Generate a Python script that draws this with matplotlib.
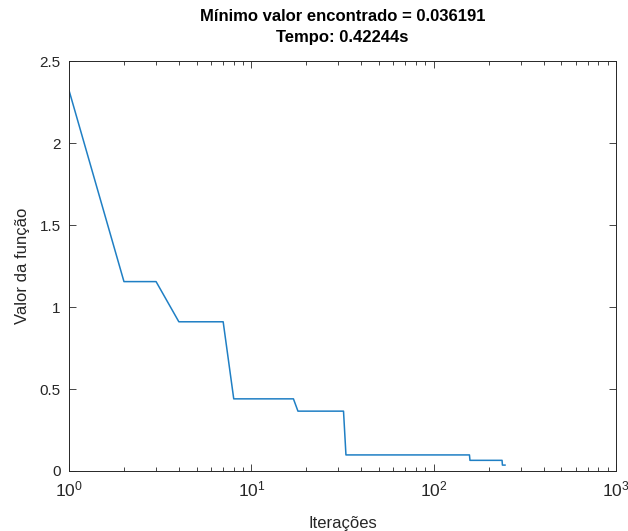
import numpy as np
import matplotlib
matplotlib.use('Agg')
import matplotlib.pyplot as plt
from matplotlib.ticker import LogLocator, NullFormatter

# Data
iteracoes = [1, 2, 3, 4, 7, 8, 17, 18, 32, 33, 157, 158, 237, 238, 246]
valores = [2.32, 1.155, 1.155, 0.91, 0.91, 0.44, 0.44, 0.365, 0.365,
           0.098, 0.098, 0.065, 0.065, 0.036, 0.036]
y_ticks = [0, 0.5, 1, 1.5, 2, 2.5]
y_labels = ['0', '0.5', '1', '1.5', '2', '2.5']
titulo = 'Mínimo valor encontrado = 0.036191\nTempo: 0.42244s'

plt.rcParams['font.family'] = ['Liberation Sans', 'DejaVu Sans']
cinza = '#262626'

fig = plt.figure(figsize=(6.28, 5.31), dpi=100)
ax = fig.add_axes([0.110, 0.113, 0.871, 0.772])
ax.plot(iteracoes, valores, color='#1f7fc4', lw=1.1)

ax.set_xscale('log')
ax.set_xlim(1, 1000)
ax.set_ylim(0, 2.5)
ax.set_yticks(y_ticks)
ax.set_yticklabels(y_labels)
ax.xaxis.set_minor_locator(LogLocator(base=10, subs=np.arange(2, 10)))
ax.xaxis.set_minor_formatter(NullFormatter())

ax.tick_params(which='both', direction='in', top=True, right=True,
               colors=cinza, width=0.6)
ax.tick_params(which='major', length=5)
ax.tick_params(which='minor', length=3)
ax.tick_params(axis='y', labelsize=11, pad=6)
ax.tick_params(axis='x', labelsize=12.5, pad=6)
for s in ax.spines.values():
    s.set_color(cinza)
    s.set_linewidth(0.7)

ax.set_xlabel('Iterações', fontsize=12, color=cinza, labelpad=12)
ax.set_ylabel('Valor da função', fontsize=12, color=cinza, labelpad=7)
ax.set_title(titulo, fontsize=12, fontweight='bold', color='black',
             linespacing=1.45, pad=14)

fig.savefig('out.png', dpi=100)
